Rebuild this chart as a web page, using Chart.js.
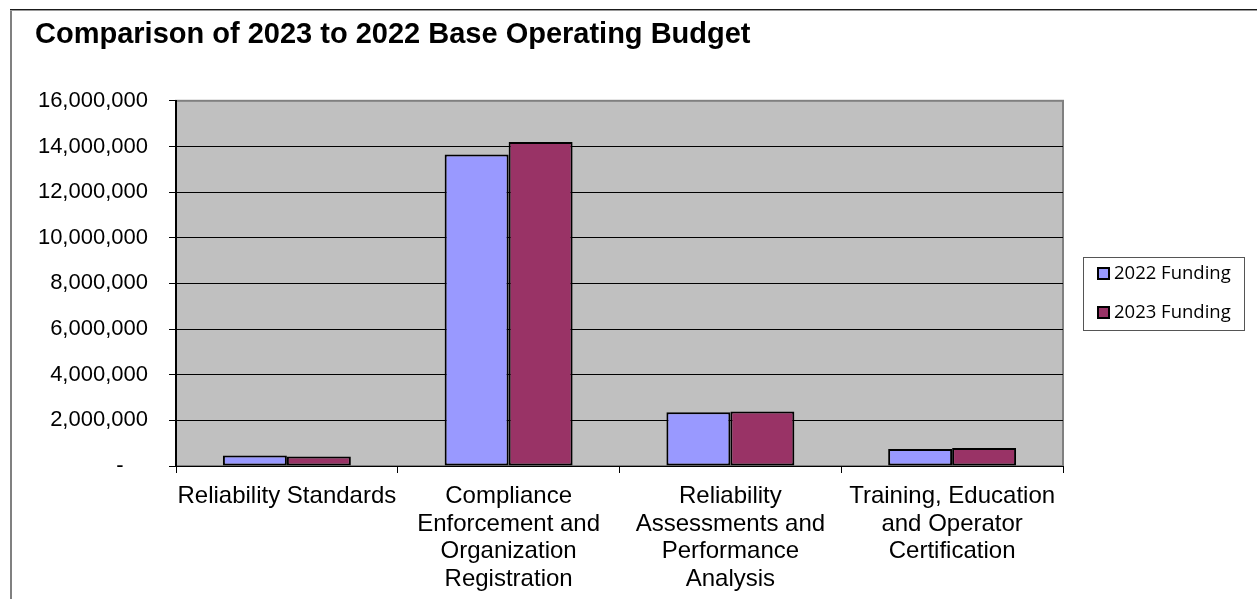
<!DOCTYPE html>
<html>
<head>
<meta charset="utf-8">
<script src="https://cdn.jsdelivr.net/npm/chart.js@4.4.3/dist/chart.umd.min.js"></script>
<style>
  html, body { margin: 0; padding: 0; background: #fff; }
  #wrap { position: relative; width: 1257px; height: 599px; }
</style>
</head>
<body>
<div id="wrap"><canvas id="chart" width="1257" height="599"></canvas></div>
<script>
// chart data
const categories = [
    ['Reliability Standards'],
    ['Compliance', 'Enforcement and', 'Organization', 'Registration'],
    ['Reliability', 'Assessments and', 'Performance', 'Analysis'],
    ['Training, Education', 'and Operator', 'Certification']
];
const funding2022 = [460000, 13650000, 2350000, 740000];
const funding2023 = [420000, 14200000, 2390000, 790000];
const yTicks = [0, 2000000, 4000000, 6000000, 8000000, 10000000, 12000000, 14000000, 16000000];

const AXIS_FONT = 'Liberation Sans, Arial, sans-serif';

// grey plot area + outer frame (like the Excel chart)
const backdrop = {
    id: 'backdrop',
    beforeDraw(chart) {
        const {ctx, chartArea: a} = chart;
        ctx.save();
        // outer frame
        ctx.fillStyle = '#808080';
        ctx.fillRect(10, 9, 2, chart.height - 9);
        ctx.fillStyle = '#1a1a1a';
        ctx.fillRect(10, 9, chart.width - 10, 1);
        ctx.fillStyle = '#9a9a9a';
        ctx.fillRect(10, 10, chart.width - 10, 1);
        // plot area
        ctx.fillStyle = '#C0C0C0';
        ctx.fillRect(a.left, a.top, a.right - a.left, a.bottom - a.top);
        ctx.strokeStyle = '#808080';
        ctx.lineWidth = 2;
        ctx.strokeRect(a.left, a.top, a.right - a.left, a.bottom - a.top);
        ctx.restore();
    }
};

// boxed legend at the right, drawn from the datasets
const boxLegend = {
    id: 'boxLegend',
    afterDraw(chart) {
        const ctx = chart.ctx;
        const x = 1083, y = 257, w = 161, h = 73;
        ctx.save();
        ctx.strokeStyle = '#555';
        ctx.lineWidth = 1;
        ctx.strokeRect(x + 0.5, y + 0.5, w, h);
        ctx.font = '18.5px "Open Sans", sans-serif';
        ctx.textBaseline = 'middle';
        chart.data.datasets.forEach((ds, i) => {
            const cy = y + 17 + i * 39;
            ctx.fillStyle = ds.backgroundColor;
            ctx.fillRect(1098, cy - 6, 11, 11);
            ctx.strokeStyle = '#000';
            ctx.lineWidth = 2;
            ctx.strokeRect(1098, cy - 6, 11, 11);
            ctx.fillStyle = '#000';
            ctx.fillText(ds.label, 1114, cy);
        });
        ctx.restore();
    }
};

new Chart(document.getElementById('chart'), {
    type: 'bar',
    data: {
        labels: categories,
        datasets: [{
            label: '2022 Funding',
            data: funding2022,
            backgroundColor: '#9999FF',
            borderColor: '#000',
            borderWidth: 2,
            borderSkipped: false,
            barPercentage: 1,
            categoryPercentage: 0.577
        }, {
            label: '2023 Funding',
            data: funding2023,
            backgroundColor: '#993366',
            borderColor: '#000',
            borderWidth: 2,
            borderSkipped: false,
            barPercentage: 1,
            categoryPercentage: 0.577
        }]
    },
    options: {
        responsive: false,
        animation: false,
        layout: { padding: { left: 35, right: 194, top: 10, bottom: 0 } },
        plugins: {
            legend: { display: false },
            tooltip: { enabled: false },
            title: {
                display: true,
                text: 'Comparison of 2023 to 2022 Base Operating Budget',
                align: 'start',
                color: '#000',
                font: { family: AXIS_FONT, size: 29, weight: 'bold', lineHeight: 1.2 },
                padding: { top: 8, bottom: 48 }
            }
        },
        scales: {
            x: {
                afterFit(scale) { scale.height = 133; },
                grid: {
                    offset: true,
                    drawOnChartArea: false,
                    drawTicks: true,
                    tickLength: 7,
                    color: '#000'
                },
                border: { color: '#000', width: 1 },
                ticks: {
                    color: '#000',
                    maxRotation: 0,
                    autoSkip: false,
                    padding: 10,
                    font: { family: AXIS_FONT, size: 24, lineHeight: 1.146 }
                }
            },
            y: {
                min: 0,
                max: 16000000,
                afterFit(scale) { scale.width = 141; },
                afterBuildTicks(scale) { scale.ticks = yTicks.map(v => ({value: v})); },
                grid: {
                    color: ctx => ctx.tick && ctx.tick.value === 16000000 ? '#808080' : '#000',
                    lineWidth: 1,
                    tickLength: 7,
                    tickColor: '#000'
                },
                border: { color: '#000', width: 2 },
                ticks: {
                    color: '#000',
                    padding: 21,
                    font: { family: AXIS_FONT, size: 22 },
                    callback: v => v === 0 ? '-    ' : v.toLocaleString('en-US')
                }
            }
        }
    },
    plugins: [backdrop, boxLegend]
});
</script>
</body>
</html>
